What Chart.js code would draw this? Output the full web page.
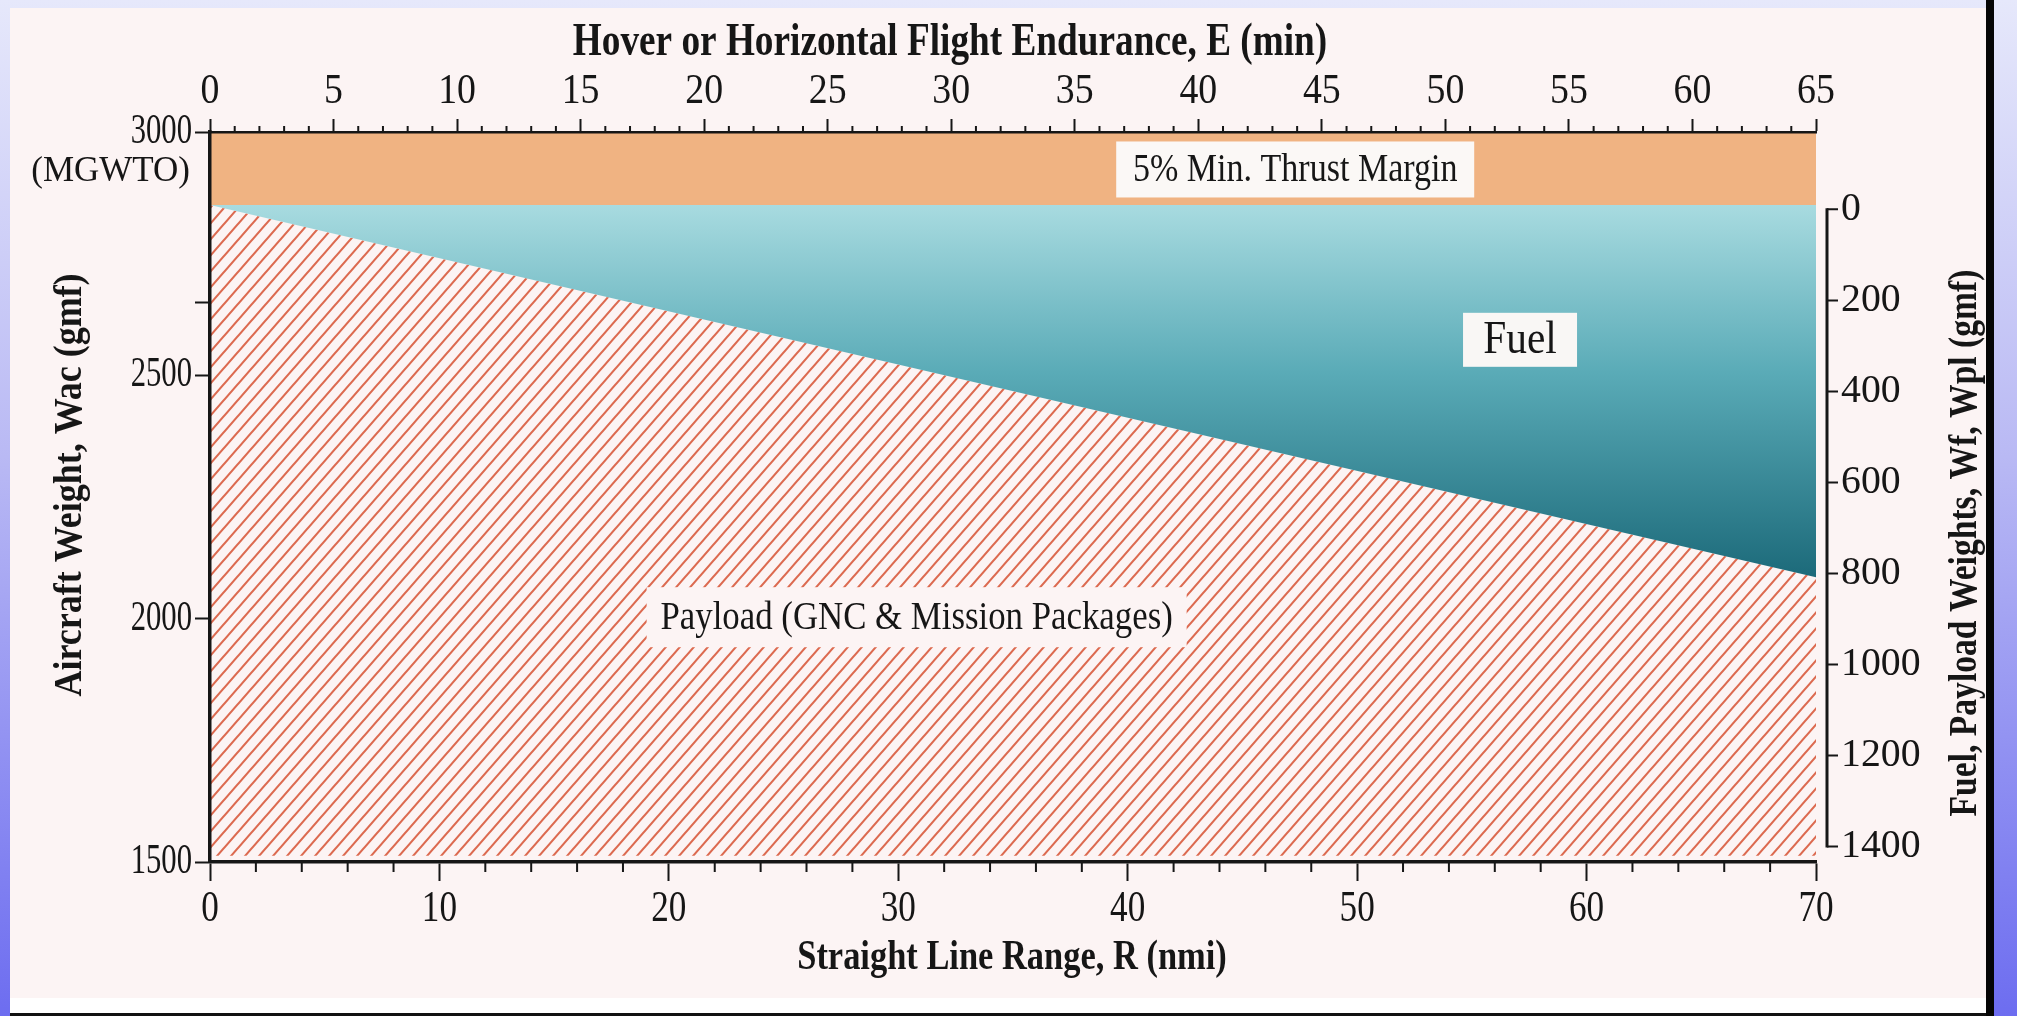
<!DOCTYPE html>
<html>
<head>
<meta charset="utf-8">
<title>Weight vs range</title>
<script src="https://cdn.jsdelivr.net/npm/chart.js@4.4.1/dist/chart.umd.min.js"></script>
<style>
  html, body { margin: 0; padding: 0; }
  body {
    width: 2017px; height: 1016px; overflow: hidden; position: relative;
    background: linear-gradient(180deg, #e6e8fb 0%, #b9b9f4 45%, #6d6df0 100%);
  }
  #paper {
    position: absolute; left: 10px; top: 8px; width: 1976px; height: 1006px;
    background: linear-gradient(180deg, #fcf4f4 0%, #fcf4f4 98.4%, #ffffff 98.4%);
  }
  #edgeR { position: absolute; left: 1986px; top: 0; width: 8px; height: 1016px; background: #050505; }
  #edgeB { position: absolute; left: 10px; top: 1013px; width: 1976px; height: 3px; background: #111; }
  #wrap { position: absolute; left: 0; top: 0; width: 2017px; height: 1016px; }
</style>
</head>
<body>
<div id="paper"></div>
<div id="edgeR"></div>
<div id="edgeB"></div>
<div id="wrap"><canvas id="chart"></canvas></div>
<script>
// values
const rangeNmi    = [0, 70];             // straight line range, R (nmi)
const marginTop   = [3000, 3000];        // MGWTO
const fuelTop     = [2850, 2850];        // MGWTO less 5% thrust margin
const payloadTop  = [2850, 2085];        // fuel / payload boundary (Wac)
const leftTicks   = [1500, 2000, 2500, 2650, 3000];
const leftLabels  = [1500, 2000, 2500, 3000];
const rightTicks  = [0, 200, 400, 600, 800, 1000, 1200, 1400];

const notes = [
  { text: '5% Min. Thrust Margin', x: 47.3, y: 2923, size: 41, sx: 0.83, w: 358, h: 56, fill: '#fbf8f6' },
  { text: 'Fuel', x: 57.1, y: 2573, size: 46, sx: 0.9, w: 114, h: 54, fill: '#f9f7f5' },
  { text: 'Payload (GNC & Mission Packages)', x: 30.8, y: 2003, size: 40, sx: 0.87, w: 540, h: 60, fill: '#fcf4f4' }
];

const SERIF = '"Liberation Serif", "Times New Roman", serif';
const INK = '#161616';

// the scan's lettering is tall and narrow, so text is squeezed sideways
function sText(ctx, text, x, y, o) {
  ctx.save();
  ctx.translate(x, y);
  if (o.rot) ctx.rotate(o.rot);
  ctx.scale(o.sx || 1, 1);
  ctx.font = `${o.bold ? 'bold ' : ''}${o.size}px ${SERIF}`;
  ctx.textAlign = o.align || 'center';
  ctx.textBaseline = 'middle';
  ctx.fillStyle = INK;
  ctx.fillText(text, 0, 0);
  ctx.restore();
}

function hatch() {
  const w = 14, h = 16;
  const c = document.createElement('canvas');
  c.width = w; c.height = h;
  const g = c.getContext('2d');
  g.strokeStyle = '#dc6a50';
  g.lineWidth = 2.1;
  g.beginPath();
  for (const k of [-1, 0, 1]) {
    g.moveTo(-w, h * (2 + k));
    g.lineTo(2 * w, h * (k - 1));
  }
  g.stroke();
  return g.createPattern(c, 'repeat');
}

const pts = (ys) => rangeNmi.map((r, i) => ({ x: r, y: ys[i] }));

const decor = {
  id: 'decor',
  afterDatasetsDraw(chart) {
    const { ctx, scales: { x, y } } = chart;
    notes.forEach(n => {
      const px = x.getPixelForValue(n.x), py = y.getPixelForValue(n.y);
      ctx.fillStyle = n.fill;
      ctx.fillRect(px - n.w / 2, py - n.h / 2, n.w, n.h);
      sText(ctx, n.text, px, py + 1, n);
    });
  },
  afterDraw(chart) {
    const { ctx, scales: { x, x2, y, y2 } } = chart;
    ctx.save();
    ctx.strokeStyle = INK;
    ctx.lineWidth = 2;
    ctx.beginPath();
    // minor ticks, top axis every 1 min
    for (let v = x2.min; v <= x2.max; v += 1) {
      if (v % 5 === 0) continue;
      const px = x2.getPixelForValue(v);
      ctx.moveTo(px, x2.bottom); ctx.lineTo(px, x2.bottom - 6);
    }
    // minor ticks, bottom axis every 2 nmi
    for (let v = x.min; v <= x.max; v += 2) {
      if (v % 10 === 0) continue;
      const px = x.getPixelForValue(v);
      ctx.moveTo(px, x.top); ctx.lineTo(px, x.top + 10);
    }
    // right axis: sits a little off the plot and only runs 0..1400
    const rx = y2.left + 11;
    rightTicks.forEach(v => {
      const py = y2.getPixelForValue(v);
      ctx.moveTo(rx, py); ctx.lineTo(rx + 11, py);
    });
    ctx.stroke();
    ctx.lineWidth = 3;
    ctx.beginPath();
    ctx.moveTo(rx, y2.getPixelForValue(rightTicks[0]) - 1);
    ctx.lineTo(rx, y2.getPixelForValue(rightTicks[rightTicks.length - 1]) + 1);
    ctx.stroke();
    ctx.restore();

    // tick labels
    x2.ticks.forEach(t => sText(ctx, String(t.value), x2.getPixelForValue(t.value), x2.bottom - 40, { size: 42, sx: 0.9 }));
    x.ticks.forEach(t => sText(ctx, String(t.value), x.getPixelForValue(t.value), x.top + 47, { size: 44, sx: 0.8 }));
    y.ticks.forEach(t => {
      if (leftLabels.includes(t.value)) sText(ctx, String(t.value), y.right - 18, y.getPixelForValue(t.value), { size: 42, sx: 0.73, align: 'right' });
    });
    rightTicks.forEach(v => sText(ctx, String(v), rx + 14, y2.getPixelForValue(v), { size: 41, sx: 0.97, align: 'left' }));
    sText(ctx, '(MGWTO)', y.right - 20, y.getPixelForValue(3000) + 40, { size: 35, align: 'right' });

    // axis titles
    const mid = (chart.chartArea.top + chart.chartArea.bottom) / 2;
    const cx = (chart.chartArea.left + chart.chartArea.right) / 2;
    sText(ctx, 'Hover or Horizontal Flight Endurance, E (min)', cx - 63, x2.top + 43, { size: 46, bold: true, sx: 0.81 });
    sText(ctx, 'Straight Line Range, R (nmi)', cx - 1, x.bottom - 58, { size: 42, bold: true, sx: 0.82 });
    sText(ctx, 'Aircraft Weight, Wac (gmf)', y.left + 71, mid - 12, { size: 40, bold: true, sx: 0.9, rot: -Math.PI / 2 });
    sText(ctx, 'Fuel, Payload Weights, Wf, Wpl (gmf)', y2.left + 150, mid + 46, { size: 40, bold: true, sx: 0.84, rot: -Math.PI / 2 });
  }
};

new Chart(document.getElementById('chart'), {
  type: 'line',
  data: {
    datasets: [
      { label: 'Thrust margin', data: pts(marginTop), fill: '+1',
        backgroundColor: '#f0b382', borderWidth: 0, pointRadius: 0 },
      { label: 'Fuel', data: pts(fuelTop), fill: '+1', borderWidth: 0, pointRadius: 0,
        backgroundColor: (c) => {
          const ch = c.chart;
          if (!ch.chartArea) return 'transparent';
          const y0 = ch.scales.y.getPixelForValue(fuelTop[0]);
          const y1 = ch.scales.y.getPixelForValue(Math.min(...payloadTop));
          const g = ch.ctx.createLinearGradient(0, y0, 0, y1);
          g.addColorStop(0, '#a8dbe0');
          g.addColorStop(0.45, '#5aabb7');
          g.addColorStop(1, '#1c6a7a');
          return g;
        } },
      { label: 'Payload', data: pts(payloadTop), fill: { value: 1513 },
        backgroundColor: hatch(), borderWidth: 0, pointRadius: 0 }
    ]
  },
  options: {
    responsive: true,
    maintainAspectRatio: false,
    animation: false,
    devicePixelRatio: 1,
    layout: { padding: 0 },
    plugins: { legend: { display: false }, tooltip: { enabled: false } },
    scales: {
      x: {
        type: 'linear', position: 'bottom', min: 0, max: 70,
        ticks: { stepSize: 10, display: false },
        grid: { drawOnChartArea: false, tickLength: 19, tickWidth: 2, tickColor: INK },
        border: { color: INK, width: 3.5, z: 1 },
        afterFit: s => { s.height = 154; }
      },
      x2: {
        type: 'linear', position: 'top', min: 0, max: 65,
        ticks: { stepSize: 5, display: false },
        grid: { drawOnChartArea: false, tickLength: 13, tickWidth: 2, tickColor: INK },
        border: { color: INK, width: 2.5, z: 1 },
        afterFit: s => { s.height = 132; }
      },
      y: {
        type: 'linear', position: 'left', min: 1500, max: 3000,
        afterBuildTicks: s => { s.ticks = leftTicks.map(v => ({ value: v })); },
        ticks: { display: false },
        grid: { drawOnChartArea: false, tickLength: 15, tickWidth: 2, tickColor: INK },
        border: { color: INK, width: 3.5, z: 1 },
        afterFit: s => { s.width = 210; }
      },
      y2: {
        type: 'linear', position: 'right', reverse: true, min: -170, max: 1434,
        afterBuildTicks: s => { s.ticks = rightTicks.map(v => ({ value: v })); },
        ticks: { display: false },
        grid: { display: false },
        border: { display: false },
        afterFit: s => { s.width = 201; }
      }
    }
  },
  plugins: [decor]
});
</script>
</body>
</html>
